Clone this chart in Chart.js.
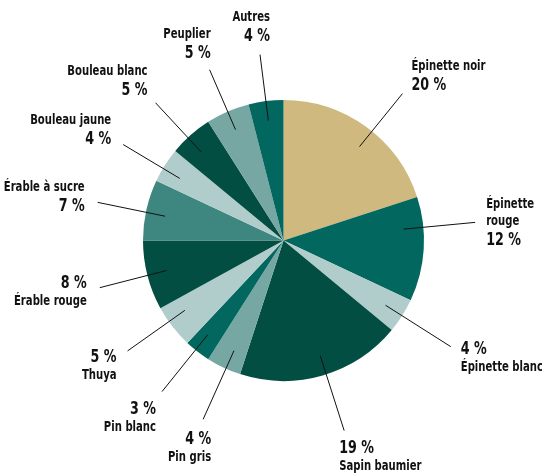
<!DOCTYPE html>
<html>
<head>
<meta charset="utf-8">
<script src="https://cdn.jsdelivr.net/npm/chart.js@4/dist/chart.umd.min.js"></script>
<style>
  html, body { margin: 0; padding: 0; background: #ffffff; }
  #wrap { width: 542px; height: 475px; position: relative; }
</style>
</head>
<body>
<div id="wrap"><canvas id="c" width="542" height="475"></canvas></div>
<script>
// ---- data ----
const categories = ["Épinette noir", "Épinette rouge", "Épinette blanc", "Sapin baumier", "Pin gris", "Pin blanc", "Thuya", "Érable rouge", "Érable à sucre", "Bouleau jaune", "Bouleau blanc", "Peuplier", "Autres"];
const shares = [20, 12, 4, 19, 4, 3, 5, 8, 7, 4, 5, 5, 4];

// ---- style ----
const sliceColors = ["#CFB97F", "#02675F", "#B1CDCB", "#034E43", "#76A7A2", "#02675F", "#B1CDCB", "#034E43", "#3E8780", "#B1CDCB", "#034E43", "#76A7A2", "#02675F"];
// label layout: align, order ('np' = name then %, 'pn' = % then name), dx/dy of text from leader end,
// len = leader outer radius factor, turn = leader rotation (deg)
const labelLayout = [
  { align: "left",  order: "np", dx: 9,   dy: -8,  wrap: false, len: 1.345, turn: 3 },
  { align: "left",  order: "np", dx: 11,  dy: 18,  wrap: true,  len: 1.37,  turn: -9 },
  { align: "left",  order: "pn", dx: 10,  dy: 3,   wrap: false, len: 1.41,  turn: 0 },
  { align: "left",  order: "pn", dx: -5,  dy: 18,  wrap: false, len: 1.42,  turn: -1.5 },
  { align: "right", order: "pn", dx: 8,   dy: 20,  wrap: false, len: 1.395, turn: -1 },
  { align: "right", order: "pn", dx: -6,  dy: 18,  wrap: false, len: 1.38,  turn: 1 },
  { align: "right", order: "pn", dx: -11, dy: 7,   wrap: false, len: 1.36,  turn: 2.5 },
  { align: "right", order: "pn", dx: -13, dy: -4,  wrap: false, len: 1.35,  turn: 0 },
  { align: "right", order: "np", dx: -13, dy: 4,   wrap: false, len: 1.35,  turn: -1 },
  { align: "right", order: "np", dx: -12, dy: -5,  wrap: false, len: 1.33,  turn: -1.5 },
  { align: "right", order: "np", dx: -8,  dy: -12, wrap: false, len: 1.338, turn: -1.5 },
  { align: "right", order: "np", dx: 1,   dy: -16, wrap: false, len: 1.324, turn: 0 },
  { align: "right", order: "np", dx: 10,  dy: -18, wrap: false, len: 1.334, turn: 0 }
];
const FONT = "'DejaVu Sans Condensed', 'Liberation Sans Narrow', sans-serif";
const SQUEEZE = 0.83;

function drawText(ctx, t, x, y, align) {
  ctx.save();
  ctx.translate(x, y);
  ctx.scale(SQUEEZE, 1);
  ctx.textAlign = align;
  ctx.fillText(t, 0, 0);
  ctx.restore();
}

const leaderPlugin = {
  id: "leaders",
  afterDatasetsDraw(chart) {
    const ctx = chart.ctx;
    const meta = chart.getDatasetMeta(0);
    ctx.save();
    meta.data.forEach((arc, i) => {
      const L = labelLayout[i];
      const p = arc.getProps(["x", "y", "startAngle", "endAngle", "outerRadius"], true);
      const mid = (p.startAngle + p.endAngle) / 2 + L.turn * Math.PI / 180;
      const r = p.outerRadius;
      const x1 = p.x + Math.cos(mid) * r * 0.86, y1 = p.y + Math.sin(mid) * r * 0.86;
      const x2 = p.x + Math.cos(mid) * r * L.len, y2 = p.y + Math.sin(mid) * r * L.len;
      ctx.strokeStyle = "#111";
      ctx.lineWidth = 1;
      ctx.beginPath();
      ctx.moveTo(x1, y1);
      ctx.lineTo(x2, y2);
      ctx.stroke();

      const pct = shares[i] + " %";
      const nameLines = L.wrap ? categories[i].split(" ") : [categories[i]];
      const tx = x2 + L.dx;
      const pctY = y2 + L.dy;
      ctx.fillStyle = "#111";
      ctx.textBaseline = "middle";
      ctx.font = "bold 17px " + FONT;
      drawText(ctx, pct, tx, pctY, L.align);
      ctx.font = "bold 13.5px " + FONT;
      if (L.order === "np") {
        for (let k = 0; k < nameLines.length; k++) {
          const yy = pctY - 19 - (nameLines.length - 1 - k) * 17;
          drawText(ctx, nameLines[k], tx, yy, L.align);
        }
      } else {
        nameLines.forEach((t, k) => drawText(ctx, t, tx, pctY + 18 + k * 17, L.align));
      }
    });
    ctx.restore();
  }
};

new Chart(document.getElementById("c"), {
  type: "pie",
  data: {
    labels: categories,
    datasets: [{ data: shares, backgroundColor: sliceColors, borderWidth: 0 }]
  },
  options: {
    responsive: false,
    animation: false,
    layout: { padding: { left: 143, right: 118, top: 100, bottom: 94 } },
    plugins: { legend: { display: false }, tooltip: { enabled: false } }
  },
  plugins: [leaderPlugin]
});
</script>
</body>
</html>
